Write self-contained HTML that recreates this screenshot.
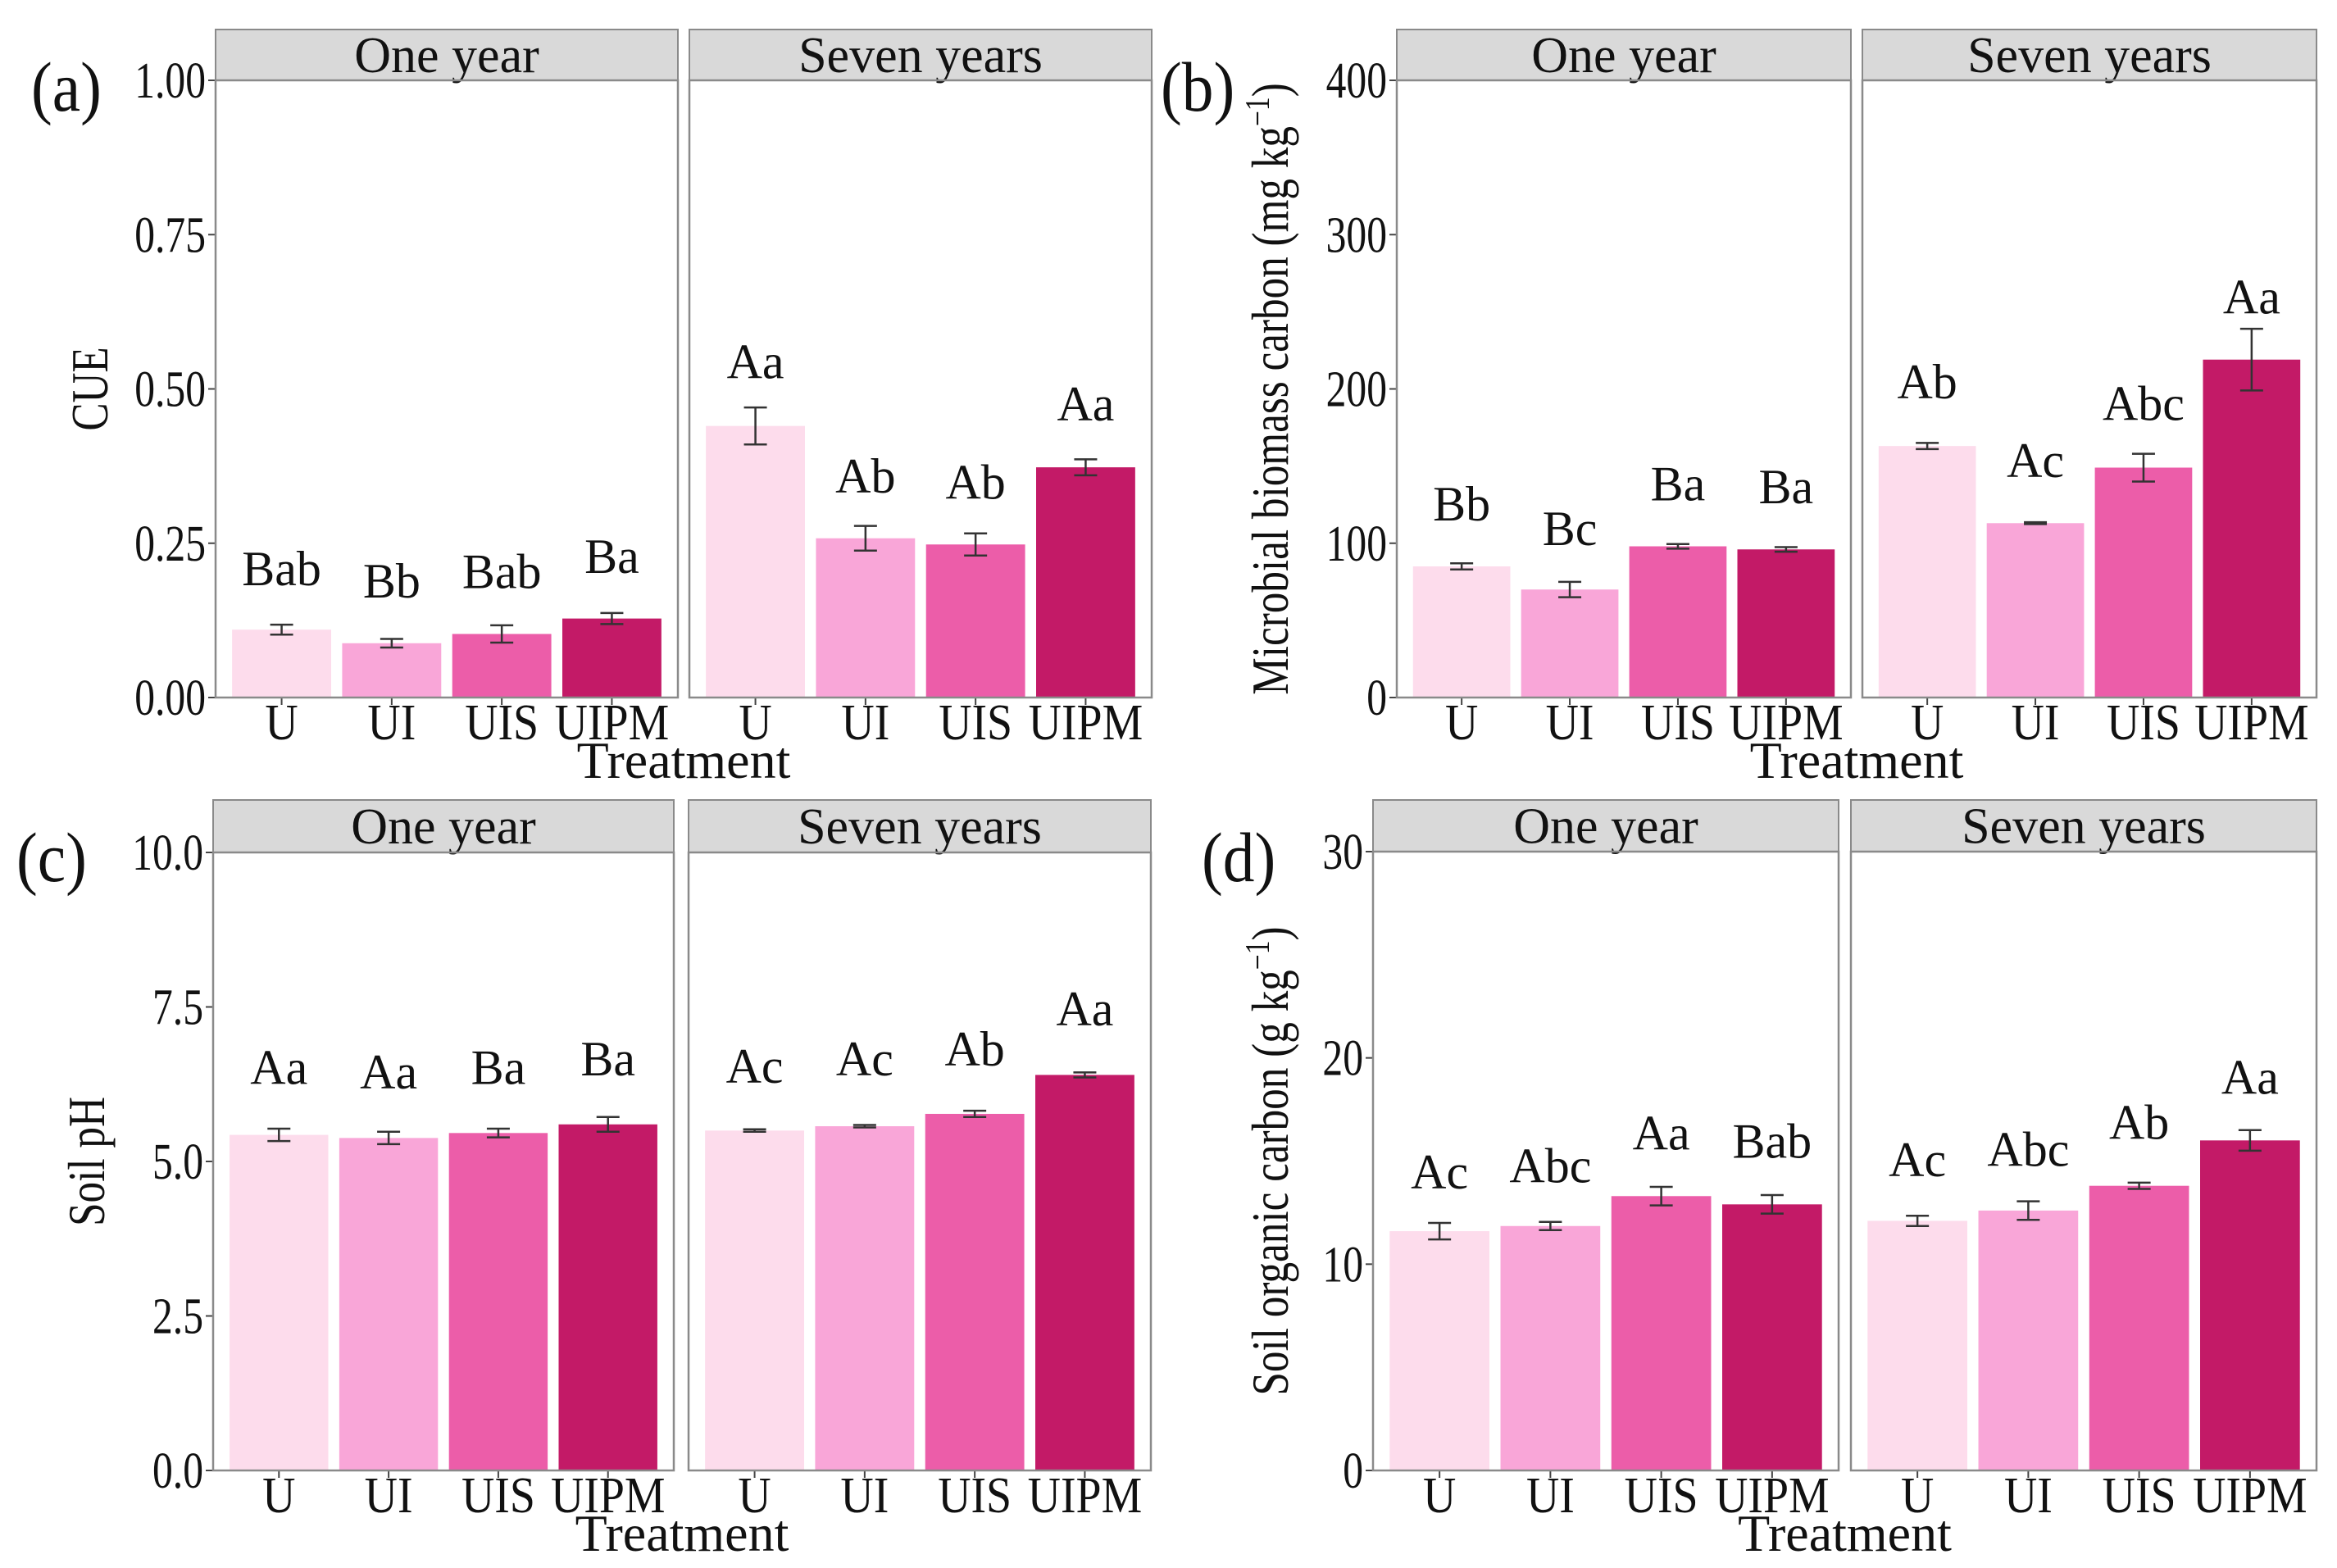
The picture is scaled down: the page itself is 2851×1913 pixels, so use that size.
<!DOCTYPE html>
<html><head><meta charset="utf-8">
<style>
html,body{margin:0;padding:0;background:#fff;}
svg{display:block;font-family:"Liberation Serif",serif;}
</style></head>
<body>
<svg id="fig" width="2851" height="1913" viewBox="0 0 2851 1913" xmlns="http://www.w3.org/2000/svg"></svg>
<script>
// ---- shared data ----
const treatments = ["U","UI","UIS","UIPM"];
const facets = ["One year","Seven years"];
const colors = ["#fddcec","#f9a6d8","#ec5da9","#c31a67"];

// Panel (a) CUE
const cueTicks = [0,0.25,0.5,0.75,1.0];
const cueTickLabels = ["0.00","0.25","0.50","0.75","1.00"];
const cueOne = [0.110,0.088,0.103,0.128];
const cueOneErr = [0.008,0.007,0.014,0.009];
const cueSeven = [0.440,0.258,0.248,0.373];
const cueSevenErr = [0.030,0.020,0.018,0.013];
const cueOneLetters = ["Bab","Bb","Bab","Ba"];
const cueSevenLetters = ["Aa","Ab","Ab","Aa"];
const cueOneLetterY = [0.21,0.19,0.205,0.23];
const cueSevenLetterY = [0.545,0.36,0.35,0.477];

// Panel (b) MBC
const mbcTicks = [0,100,200,300,400];
const mbcTickLabels = ["0","100","200","300","400"];
const mbcOne = [85,70,98,96];
const mbcOneErr = [2,5,1.5,1.5];
const mbcSeven = [163,113,149,219];
const mbcSevenErr = [2,0.6,9,20];
const mbcOneLetters = ["Bb","Bc","Ba","Ba"];
const mbcSevenLetters = ["Ab","Ac","Abc","Aa"];
const mbcOneLetterY = [126,110,139,137];
const mbcSevenLetterY = [205,154,191,260];

// Panel (c) pH
const phTicks = [0,2.5,5,7.5,10];
const phTickLabels = ["0.0","2.5","5.0","7.5","10.0"];
const phOne = [5.43,5.38,5.46,5.60];
const phOneErr = [0.10,0.10,0.07,0.12];
const phSeven = [5.50,5.57,5.77,6.40];
const phSevenErr = [0.02,0.02,0.05,0.04];
const phOneLetters = ["Aa","Aa","Ba","Ba"];
const phSevenLetters = ["Ac","Ac","Ab","Aa"];
const phOneLetterY = [6.53,6.46,6.53,6.67];
const phSevenLetterY = [6.55,6.67,6.83,7.48];

// Panel (d) SOC
const socTicks = [0,10,20,30];
const socTickLabels = ["0","10","20","30"];
const socOne = [11.6,11.85,13.3,12.9];
const socOneErr = [0.4,0.2,0.45,0.45];
const socSeven = [12.1,12.6,13.8,16.0];
const socSevenErr = [0.25,0.45,0.15,0.5];
const socOneLetters = ["Ac","Abc","Aa","Bab"];
const socSevenLetters = ["Ac","Abc","Ab","Aa"];
const socOneLetterY = [14.5,14.8,16.4,16.0];
const socSevenLetterY = [15.1,15.6,16.9,19.1];

const NS = "http://www.w3.org/2000/svg";
const svg = document.getElementById("fig");
function mk(tag, attrs, parent, text){
  const e = document.createElementNS(NS, tag);
  for (const k in attrs) e.setAttribute(k, attrs[k]);
  if (text !== undefined) e.textContent = text;
  (parent||svg).appendChild(e);
  return e;
}
function txt(parent, x, y, str, size, sx, anchor, rot){
  const t = mk("text",{x:0,y:0,"font-size":size,"text-anchor":anchor||"start",fill:"#111",
    transform:`translate(${x} ${y})${rot?" rotate(-90)":""} scale(${sx} 1)`},parent,str);
  return t;
}

function drawPanel(p){
  const g = mk("g", {});
  
  
  const ymax = p.ticks[p.ticks.length-1];
  const yScale = v => p.zero - (v / ymax) * (p.zero - p.top);
  p.ticks.forEach((t,i)=>{
    const y = yScale(t);
    const ln = mk("line",{x1:p.fx[0][0]-9,x2:p.fx[0][0],y1:y,y2:y,stroke:"#444","stroke-width":2},g);
    
    
    const tx = txt(g, p.fx[0][0]-12, y+21, p.tickLabels[i], 62, 0.8, "end");
    
    
  });
  const series = [[p.one,p.oneErr,p.oneLetters,p.oneLetterY],[p.seven,p.sevenErr,p.sevenLetters,p.sevenLetterY]];
  p.fx.forEach((fx,fi)=>{
    const [x0,x1] = fx;
    const w = x1 - x0;
    const unit = w / 4.2;
    const xc = i => x0 + unit*(0.6 + i);
    const st = mk("rect",{x:x0,y:p.stripTop,width:w,height:p.top-p.stripTop,fill:"#d9d9d9",stroke:"#8a8a8a","stroke-width":2},g);
    
    
    const stt = txt(g,(x0+x1)/2,p.stripTop+(p.top-p.stripTop)/2+21,facets[fi],62,1,"middle");
    
    
    const [vals,errs,lets,letY] = series[fi];
    vals.forEach((v,i)=>{
      const bw = unit*0.9;
      const y = yScale(v);
      const r = mk("rect",{x:xc(i)-bw/2,y:y,width:bw,height:p.zero-y,fill:colors[i]},g);
      
      
      const yt = yScale(v+errs[i]), yb = yScale(v-errs[i]), cw = 14;
      const eb = mk("path",{d:`M${xc(i)-cw},${yt}H${xc(i)+cw}M${xc(i)},${yt}V${yb}M${xc(i)-cw},${yb}H${xc(i)+cw}`,stroke:"#333","stroke-width":2.5,fill:"none"},g);
      
      
      const lt = txt(g,xc(i),yScale(letY[i])+21,lets[i],60,1,"middle");
      
      
      const xt = mk("line",{x1:xc(i),x2:xc(i),y1:p.zero,y2:p.zero+9,stroke:"#444","stroke-width":2},g);
      
      
      const xl = txt(g,xc(i),p.zero+51,treatments[i],62,0.9,"middle");
      
      
    });
    const bd = mk("rect",{x:x0,y:p.top,width:w,height:p.zero-p.top,fill:"none",stroke:"#8a8a8a","stroke-width":2.5},g);
    
    
  });
  const xt = txt(g,(p.fx[0][0]+p.fx[1][1])/2,p.zero+98,"Treatment",64,1,"middle");
  
  
  const ymid = (p.top+p.zero)/2;
  const yt = txt(g,p.ytx,ymid,"",64,0.8,"middle",true);
  
  
  if (p.unit){
    yt.appendChild(document.createTextNode(p.ytitle+" ("+p.unit));
    mk("tspan",{"baseline-shift":"super","font-size":42},yt,"−1");
    yt.appendChild(document.createTextNode(")"));
  } else yt.textContent = p.ytitle;
  const pl = txt(g,p.plx,p.ply,p.plabel,86,0.9,"start");
  
  
}

drawPanel({name:"panel-a-cue",fx:[[263,827],[841,1405]],stripTop:36,top:98,zero:851,ticks:cueTicks,tickLabels:cueTickLabels,
  one:cueOne,oneErr:cueOneErr,seven:cueSeven,sevenErr:cueSevenErr,oneLetters:cueOneLetters,sevenLetters:cueSevenLetters,
  oneLetterY:cueOneLetterY,sevenLetterY:cueSevenLetterY,ytitle:"CUE",ytx:131,plabel:"(a)",plx:38,ply:135});
drawPanel({name:"panel-b-mbc",fx:[[1704,2258],[2272,2826]],stripTop:36,top:98,zero:851,ticks:mbcTicks,tickLabels:mbcTickLabels,
  one:mbcOne,oneErr:mbcOneErr,seven:mbcSeven,sevenErr:mbcSevenErr,oneLetters:mbcOneLetters,sevenLetters:mbcSevenLetters,
  oneLetterY:mbcOneLetterY,sevenLetterY:mbcSevenLetterY,ytitle:"Microbial biomass carbon",unit:"mg kg",ytx:1571,plabel:"(b)",plx:1416,ply:135});
drawPanel({name:"panel-c-ph",fx:[[260,822],[840,1404]],stripTop:976,top:1040,zero:1794,ticks:phTicks,tickLabels:phTickLabels,
  one:phOne,oneErr:phOneErr,seven:phSeven,sevenErr:phSevenErr,oneLetters:phOneLetters,sevenLetters:phSevenLetters,
  oneLetterY:phOneLetterY,sevenLetterY:phSevenLetterY,ytitle:"Soil pH",ytx:127,plabel:"(c)",plx:20,ply:1075});
drawPanel({name:"panel-d-soc",fx:[[1675,2243],[2258,2826]],stripTop:976,top:1039,zero:1794,ticks:socTicks,tickLabels:socTickLabels,
  one:socOne,oneErr:socOneErr,seven:socSeven,sevenErr:socSevenErr,oneLetters:socOneLetters,sevenLetters:socSevenLetters,
  oneLetterY:socOneLetterY,sevenLetterY:socSevenLetterY,ytitle:"Soil organic carbon",unit:"g kg",ytx:1571,plabel:"(d)",plx:1466,ply:1075});
</script>
</body></html>
